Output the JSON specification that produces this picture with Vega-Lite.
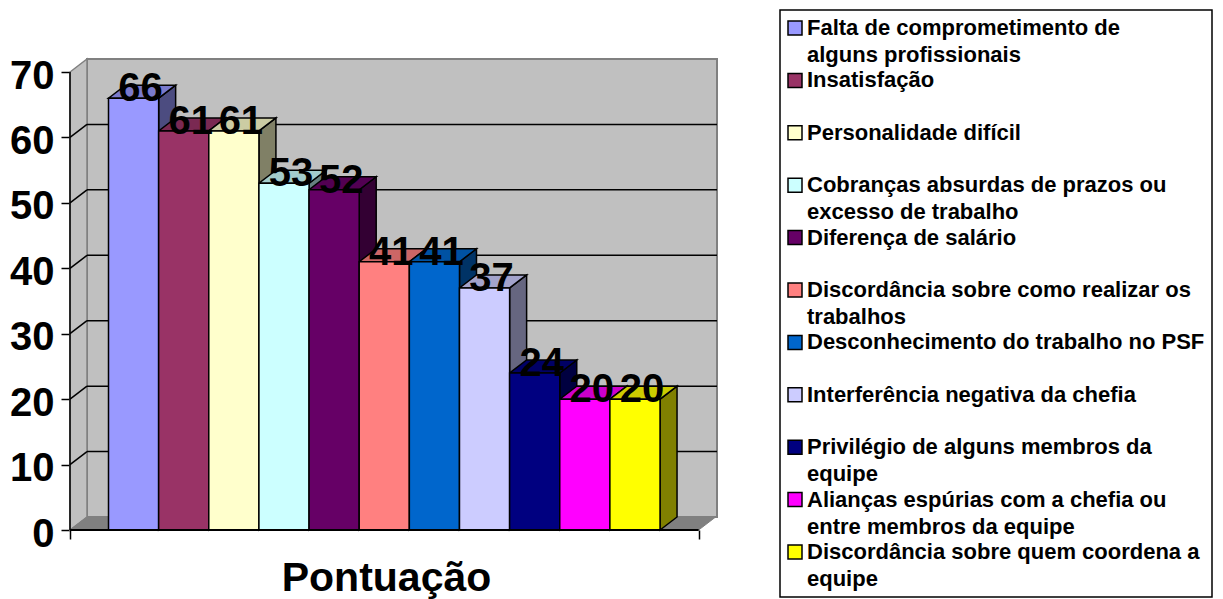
{"$schema":"https://vega.github.io/schema/vega-lite/v6.json","width":647,"height":471,"autosize":"none","padding":{"left":70,"top":59,"right":506,"bottom":69},"background":"white","config":{"view":{"stroke":null},"font":"Liberation Sans"},
"datasets":{"respostas":[{"categoria":"Falta de comprometimento de alguns profissionais","pontuacao":66},{"categoria":"Insatisfação","pontuacao":61},{"categoria":"Personalidade difícil","pontuacao":61},{"categoria":"Cobranças absurdas de prazos ou excesso de trabalho","pontuacao":53},{"categoria":"Diferença de salário","pontuacao":52},{"categoria":"Discordância sobre como realizar os trabalhos","pontuacao":41},{"categoria":"Desconhecimento do trabalho no PSF","pontuacao":41},{"categoria":"Interferência negativa da chefia","pontuacao":37},{"categoria":"Privilégio de alguns membros da equipe","pontuacao":24},{"categoria":"Alianças espúrias com a chefia ou entre membros da equipe","pontuacao":20},{"categoria":"Discordância sobre quem coordena a equipe","pontuacao":20}],"grade":[{"v":10},{"v":20},{"v":30},{"v":40},{"v":50},{"v":60}],"um":[{"k":1}]},
"encoding":{"x":{"field":"x","type":"quantitative","scale":{"domain":[-0.768,12.136],"nice":false,"zero":false},"axis":{"values":[-0.768,11.77],"labels":false,"domain":false,"grid":false,"tickSize":9,"tickWidth":1.5,"tickColor":"black","title":"Pontuação","titleFontSize":41,"titleFontWeight":"bold","titleColor":"black","titleX":316,"titleY":60,"titleBaseline":"alphabetic"}},"y":{"field":"y","type":"quantitative","stack":null,"scale":{"domain":[0,71.987],"nice":false,"zero":false},"axis":{"values":[0,10,20,30,40,50,60,70],"domain":false,"grid":false,"tickSize":9,"tickWidth":1.5,"tickColor":"black","labelFontSize":40,"labelFontWeight":"bold","labelColor":"black","labelPadding":7,"labelOverlap":false,"labelOffset":4,"labelBaseline":"middle","title":null}}},
"layer":[
{"data":{"name":"um"},"transform":[{"calculate":"-0.429","as":"x"},{"calculate":"1.987","as":"y"},{"calculate":"12.136","as":"x2"},{"calculate":"71.987","as":"y2"}],"mark":{"type":"rect","fill":"#C0C0C0","stroke":"#808080","strokeWidth":2},"encoding":{"x2":{"field":"x2"},"y2":{"field":"y2"}}},
{"data":{"name":"um"},"transform":[{"calculate":"[0,1]","as":"p"},{"flatten":["p"]},{"calculate":"-0.768+datum.p*0.339","as":"x"},{"calculate":"datum.p*1.987","as":"y"},{"calculate":"70+datum.p*1.987","as":"y2"}],"mark":{"type":"area","fill":"#C0C0C0","stroke":"#808080","strokeWidth":1.5},"encoding":{"y2":{"field":"y2"}}},
{"data":{"name":"um"},"transform":[{"calculate":"[0,1,2,3]","as":"p"},{"flatten":["p"]},{"calculate":"[-0.768,-0.429,11.77,12.109][datum.p]","as":"x"},{"calculate":"[0,0,0,1.987][datum.p]","as":"y"},{"calculate":"[0,1.987,1.987,1.987][datum.p]","as":"y2"}],"mark":{"type":"area","fill":"#808080","stroke":"#808080","strokeWidth":1},"encoding":{"y2":{"field":"y2"}}},
{"data":{"name":"grade"},"transform":[{"calculate":"-0.429","as":"x"},{"calculate":"12.136","as":"x2"},{"calculate":"datum.v+1.987","as":"y"}],"mark":{"type":"rule","color":"black","strokeWidth":1.5},"encoding":{"x2":{"field":"x2"}}},
{"data":{"name":"grade"},"transform":[{"calculate":"-0.768","as":"x"},{"calculate":"-0.429","as":"x2"},{"calculate":"datum.v","as":"y"},{"calculate":"datum.v+1.987","as":"y2"}],"mark":{"type":"rule","color":"black","strokeWidth":1.5},"encoding":{"x2":{"field":"x2"},"y2":{"field":"y2"}}},
{"data":{"name":"respostas"},"transform":[{"window":[{"op":"row_number","as":"n"}]},{"calculate":"[0,1]","as":"p"},{"flatten":["p"]},{"calculate":"datum.n+datum.p*0.339","as":"x"},{"calculate":"datum.p*1.987","as":"y"},{"calculate":"datum.pontuacao+datum.p*1.987","as":"y2"}],"mark":{"type":"area","stroke":"black","strokeWidth":1.5},"encoding":{"y2":{"field":"y2"},"detail":{"field":"categoria"},"fill":{"field":"categoria","legend":null,"scale":{"domain":["Falta de comprometimento de alguns profissionais","Insatisfação","Personalidade difícil","Cobranças absurdas de prazos ou excesso de trabalho","Diferença de salário","Discordância sobre como realizar os trabalhos","Desconhecimento do trabalho no PSF","Interferência negativa da chefia","Privilégio de alguns membros da equipe","Alianças espúrias com a chefia ou entre membros da equipe","Discordância sobre quem coordena a equipe"],"range":["#4C4C80","#4C1933","#808066","#668080","#330033","#804040","#003366","#666680","#000040","#800080","#808000"]}}}},
{"data":{"name":"respostas"},"transform":[{"window":[{"op":"row_number","as":"n"}]},{"calculate":"[0,1,2,3]","as":"p"},{"flatten":["p"]},{"calculate":"datum.n-1+[0,0.339,1,1.339][datum.p]","as":"x"},{"calculate":"datum.pontuacao+[0,0,0,1.987][datum.p]","as":"y"},{"calculate":"datum.pontuacao+[0,1.987,1.987,1.987][datum.p]","as":"y2"}],"mark":{"type":"area","stroke":"black","strokeWidth":1.5},"encoding":{"y2":{"field":"y2"},"detail":{"field":"categoria"},"color":{"field":"categoria","legend":null,"scale":{"domain":["Falta de comprometimento de alguns profissionais","Insatisfação","Personalidade difícil","Cobranças absurdas de prazos ou excesso de trabalho","Diferença de salário","Discordância sobre como realizar os trabalhos","Desconhecimento do trabalho no PSF","Interferência negativa da chefia","Privilégio de alguns membros da equipe","Alianças espúrias com a chefia ou entre membros da equipe","Discordância sobre quem coordena a equipe"],"range":["#7A7ACC","#7A2952","#CCCCA3","#A3CCCC","#520052","#CC6666","#0052A3","#A3A3CC","#000066","#CC00CC","#CCCC00"]}}}},
{"data":{"name":"respostas"},"transform":[{"window":[{"op":"row_number","as":"n"}]},{"calculate":"datum.n-1","as":"x"},{"calculate":"datum.n","as":"x2"},{"calculate":"datum.pontuacao","as":"y"},{"calculate":"0","as":"y2"}],"mark":{"type":"rect","stroke":"black","strokeWidth":1.5},"encoding":{"x2":{"field":"x2"},"y2":{"field":"y2"},"fill":{"field":"categoria","scale":{"domain":["Falta de comprometimento de alguns profissionais","Insatisfação","Personalidade difícil","Cobranças absurdas de prazos ou excesso de trabalho","Diferença de salário","Discordância sobre como realizar os trabalhos","Desconhecimento do trabalho no PSF","Interferência negativa da chefia","Privilégio de alguns membros da equipe","Alianças espúrias com a chefia ou entre membros da equipe","Discordância sobre quem coordena a equipe"],"range":["#9999FF","#993366","#FFFFCC","#CCFFFF","#660066","#FF8080","#0066CC","#CCCCFF","#000080","#FF00FF","#FFFF00"]},"legend":{"orient":"none","legendX":710,"legendY":-49,"title":null,"columns":1,"symbolType":"square","symbolSize":196,"symbolStrokeColor":"black","symbolStrokeWidth":1.5,"symbolOffset":-3,"labelFontSize":22,"labelFontWeight":"bold","labelColor":"black","labelLimit":500,"labelOffset":1,"labelBaseline":"top","labelExpr":"split(replace(datum.label, regexp('(comprometimento de|prazos ou|como realizar os|alguns membros da|chefia ou|coordena a) '), '$1|'), '|')","gridAlign":"all","rowPadding":3.4,"padding":7,"strokeColor":"black","fillColor":"white","encoding":{"labels":{"lineHeight":{"value":27},"dy":{"value":-10}},"legend":{"strokeWidth":{"value":1.5}}}}}}},
{"data":{"name":"um"},"transform":[{"calculate":"[-0.768,11.77]","as":"x"},{"flatten":["x"]},{"calculate":"0","as":"y"}],"mark":{"type":"line","color":"black","strokeWidth":2}},
{"data":{"name":"um"},"transform":[{"calculate":"[0,70]","as":"y"},{"flatten":["y"]},{"calculate":"-0.768","as":"x"}],"mark":{"type":"line","color":"black","strokeWidth":1.5,"orient":"horizontal"}},
{"data":{"name":"respostas"},"transform":[{"window":[{"op":"row_number","as":"n"}]},{"calculate":"datum.n-0.5+0.14","as":"x"},{"calculate":"datum.pontuacao+1.987","as":"y"}],"mark":{"type":"text","font":"Liberation Sans","fontSize":40,"fontWeight":"bold","color":"black","dy":4,"baseline":"middle"},"encoding":{"text":{"field":"pontuacao","type":"quantitative"}}}
],
"resolve":{"scale":{"fill":"independent","color":"independent"},"legend":{"fill":"independent","color":"independent"}}}
